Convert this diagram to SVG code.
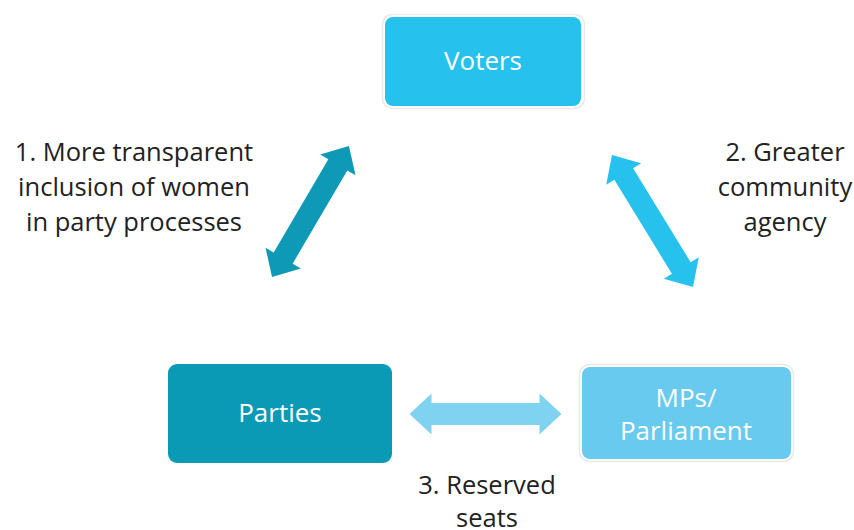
<svg xmlns="http://www.w3.org/2000/svg" width="854" height="530" viewBox="0 0 854 530">
  <style>
    .lbl { font-family: "Open Sans", "Liberation Sans", sans-serif; font-size: 25.5px; fill: #222222; text-anchor: middle; }
    .node-text { font-family: "Open Sans", "Liberation Sans", sans-serif; font-size: 26px; fill: #ffffff; text-anchor: middle; }
    .halo { fill: none; stroke: #e9e9e9; stroke-width: 1.5; }
  </style>
  <defs>
    <!-- double-headed block arrow, centered at origin, length 152 -->
    <polygon id="dbl" points="-76,0 -54,-20.5 -54,-11 54,-11 54,-20.5 76,0 54,20.5 54,11 -54,11 -54,20.5"/>
  </defs>

  <rect width="854" height="530" fill="#ffffff"/>

  <g id="connectors">
    <use href="#dbl" fill="#0E9AB6" transform="translate(310.5,211.5) rotate(-59.6)"/>
    <use href="#dbl" fill="#26C1EC" transform="translate(652.5,221) rotate(58.5) scale(1.02,1)"/>
    <use href="#dbl" fill="#80D3F0" transform="translate(485.5,414)"/>
  </g>

  <g id="voters">
    <rect class="halo" x="382.5" y="14.5" width="202" height="94" rx="10"/>
    <rect x="385" y="17" width="196" height="89" rx="8" fill="#26C1EC"/>
    <text class="node-text" x="483" y="70">Voters</text>
  </g>

  <g id="parties">
    <rect x="168" y="364" width="224" height="99" rx="9" fill="#0B9AB6"/>
    <text class="node-text" x="280" y="422">Parties</text>
  </g>

  <g id="mps">
    <rect class="halo" x="579.5" y="364.5" width="214" height="97" rx="10"/>
    <rect x="582" y="367" width="209" height="92" rx="8" fill="#68CAEE"/>
    <text class="node-text" x="686" y="407">MPs/</text>
    <text class="node-text" x="686" y="440">Parliament</text>
  </g>

  <g id="labels">
    <text class="lbl" x="134" y="161">1. More transparent</text>
    <text class="lbl" x="134" y="196">inclusion of women</text>
    <text class="lbl" x="134" y="231">in party processes</text>
    <text class="lbl" x="785" y="161">2. Greater</text>
    <text class="lbl" x="785" y="196">community</text>
    <text class="lbl" x="785" y="231">agency</text>
    <text class="lbl" x="487" y="494">3. Reserved</text>
    <text class="lbl" x="487" y="527">seats</text>
  </g>
</svg>
